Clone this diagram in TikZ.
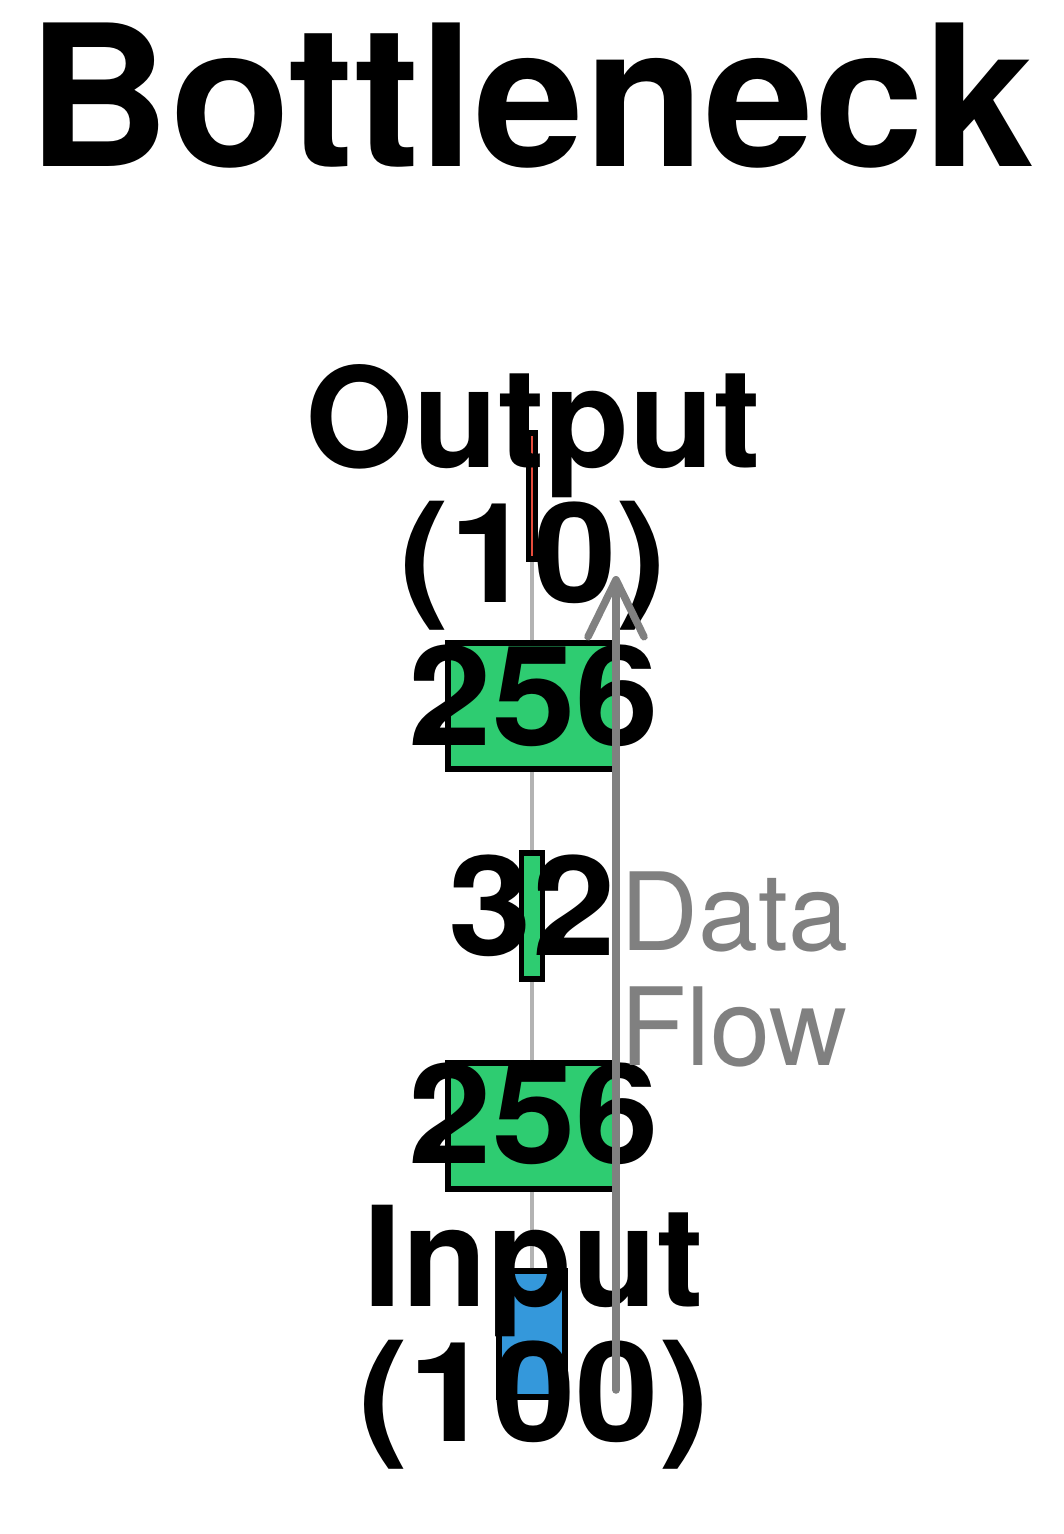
\documentclass[tikz,border=0pt]{standalone}
\usepackage{fontspec}
\setmainfont{TeX Gyre Heros}
\newfontfamily\widenum[FakeStretch=1.08]{TeX Gyre Heros}
\usetikzlibrary{arrows.meta}
\definecolor{layergreen}{HTML}{2ECC71}
\definecolor{inblue}{HTML}{3498DB}
\definecolor{outred}{HTML}{E74C3C}
\definecolor{flowgray}{HTML}{808080}
\definecolor{linkgray}{HTML}{B3B3B3}
\begin{document}
\begin{tikzpicture}[x=1pt,y=-1pt,
  layer/.style={draw=black, line width=5.5pt, rectangle, inner sep=0pt, minimum height=126pt},
  link/.style={draw=linkgray, line width=4pt},
  lbl/.style={font=\bfseries\fontsize{139}{135}\selectfont, align=center, inner sep=0pt},
  titlestyle/.style={font=\bfseries\fontsize{197}{197}\selectfont, inner sep=0pt},
  flow/.style={draw=flowgray, line width=7.5pt, line cap=round, -{Straight Barb[length=57pt,width=56pt,round]}},
  flowtext/.style={font=\fontsize{108}{115}\selectfont, text=flowgray, align=left, inner sep=0pt}
  ]
\useasboundingbox (0,0) rectangle (1064,1534);
\node[titlestyle, anchor=base] (title) at (531,166) {Bottleneck};
% layers
\node[layer, fill=inblue, minimum width=65.6pt] (in) at (532,1334) {};
\node[layer, fill=layergreen, minimum width=168pt] (h1) at (532,1126) {};
\node[layer, fill=layergreen, minimum width=21pt] (bn) at (532,916) {};
\node[layer, fill=layergreen, minimum width=168pt] (h3) at (532,706) {};
\node[layer, fill=outred, minimum width=6.6pt] (out) at (532,496) {};
% links
\draw[link] (in) -- (h1);
\draw[link] (h1) -- (bn);
\draw[link] (bn) -- (h3);
\draw[link] (h3) -- (out);
% labels
\node[lbl, anchor=base] (inlbl) at (534,1441) {Input\\{\widenum\bfseries(100)}};
\node[lbl, anchor=base] (h1lbl) at (534,1163) {\widenum\bfseries 256};
\node[lbl, anchor=base] (bnlbl) at (532,955) {\widenum\bfseries 32};
\node[lbl, anchor=base] (h3lbl) at (534,745) {\widenum\bfseries 256};
\node[lbl, anchor=base] (outlbl) at (533,602) {Output\\{\widenum\bfseries(10)}};
% data flow
\coordinate (flowstart) at (616,1390);
\coordinate (flowend) at (616,576);
\draw[flow] (flowstart) -- (flowend);
\node[flowtext, anchor=base west] (flowlbl) at (620,1065) {Data\\Flow};
\end{tikzpicture}
\end{document}
